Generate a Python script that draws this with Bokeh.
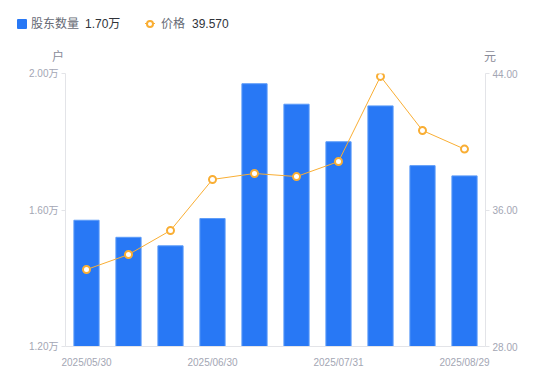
from bokeh.plotting import figure
from bokeh.layouts import column
from bokeh.models import (Range1d, LinearAxis, FixedTicker, PrintfTickFormatter,
                          ColumnDataSource, Div)
from bokeh.embed import file_html
from bokeh.resources import INLINE

# ---- data ----
dates = ["2025/05/30", "2025/06/10", "2025/06/20", "2025/06/30", "2025/07/10",
         "2025/07/18", "2025/07/31", "2025/08/08", "2025/08/20", "2025/08/29"]
holders = [1.57, 1.52, 1.495, 1.575, 1.97, 1.91, 1.80, 1.905, 1.73, 1.70]   # 万户
price = [32.51, 33.39, 34.80, 37.79, 38.14, 37.96, 38.84, 43.83, 40.66, 39.57]  # 元
shown_dates = ["2025/05/30", "2025/06/30", "2025/07/31", "2025/08/29"]
left_ticks = [1.2, 1.6, 2.0]
right_ticks = [28.0, 36.0, 44.0]
series_names = ["股东数量", "价格"]
legend_values = ["1.70万", "39.570"]
units = ["户", "元"]

BLUE = "#2878F5"
BAR_EDGE = "#5C9BF8"
ORANGE = "#F9AE34"
GREY_TXT = "#A3A6B4"
AXIS_LINE = "#E3E4E8"
FONT = "Liberation Sans, Noto Sans CJK SC"

W = 550
TOP_H = 65

# ---------------- main chart ----------------
idx = list(range(len(dates)))
src = ColumnDataSource(dict(x=idx, date=dates, holders=holders, price=price))
x_lo, x_hi = -0.5, len(dates) - 0.5

p = figure(width=W, height=381 - TOP_H, output_backend="svg", toolbar_location=None,
           x_range=Range1d(x_lo, x_hi),
           y_range=Range1d(left_ticks[0], left_ticks[-1]),
           min_border_left=65, min_border_right=65, min_border_top=8,
           min_border_bottom=35)
p.extra_y_ranges = {"price": Range1d(right_ticks[0], right_ticks[-1])}
p.outline_line_color = None
p.xgrid.visible = False
p.ygrid.visible = False

bars = p.vbar(x="x", top="holders", bottom=left_ticks[0], width=0.6, source=src,
              fill_color=BLUE, line_color=BAR_EDGE, line_width=1)
ln = p.line(x="x", y="price", source=src, y_range_name="price",
            line_color=ORANGE, line_width=1)
pts = p.scatter(x="x", y="price", source=src, y_range_name="price", size=7,
                fill_color="white", line_color=ORANGE, line_width=2)

# x axis
xa = p.xaxis[0]
xa.ticker = FixedTicker(ticks=[dates.index(d) for d in shown_dates])
xa.major_label_overrides = {dates.index(d): d for d in shown_dates}
xa.major_tick_line_color = None
xa.minor_tick_line_color = None
xa.axis_line_color = AXIS_LINE
xa.major_label_text_color = GREY_TXT
xa.major_label_text_font_size = "10px"
xa.major_label_text_font = FONT
xa.major_label_standoff = 4

# left axis
ya = p.yaxis[0]
ya.ticker = FixedTicker(ticks=left_ticks)
ya.formatter = PrintfTickFormatter(format="%.2f万")
ya.major_tick_in = 0
ya.major_tick_out = 4
ya.major_tick_line_color = AXIS_LINE
ya.minor_tick_line_color = None
ya.axis_line_color = AXIS_LINE
ya.major_label_text_color = GREY_TXT
ya.major_label_text_font_size = "10px"
ya.major_label_text_font = FONT
ya.major_label_standoff = 3

# right axis
ra = LinearAxis(y_range_name="price", ticker=FixedTicker(ticks=right_ticks),
                formatter=PrintfTickFormatter(format="%.2f"))
ra.major_tick_in = 0
ra.major_tick_out = 4
ra.major_tick_line_color = AXIS_LINE
ra.minor_tick_line_color = None
ra.axis_line_color = AXIS_LINE
ra.major_label_text_color = GREY_TXT
ra.major_label_text_font_size = "10px"
ra.major_label_text_font = FONT
ra.major_label_standoff = 3
p.add_layout(ra, "right")

# ---------------- header (legend + unit labels) ----------------
css_font = "font-family:'Liberation Sans','Noto Sans CJK SC',sans-serif;"
txt = "position:absolute;white-space:nowrap;font-size:12px;line-height:14px;"
header = f"""
<div style="position:relative;width:{W}px;height:{TOP_H}px;margin:0;padding:0;{css_font}">
  <span style="position:absolute;left:17px;top:19px;width:10px;height:10px;background:{BLUE};border-radius:1px;"></span>
  <span style="{txt}left:31px;top:17px;color:#666A75;">{series_names[0]}</span>
  <span style="{txt}left:85px;top:17px;color:#30333A;">{legend_values[0]}</span>
  <span style="position:absolute;left:145px;top:23px;width:10px;height:1px;background:{ORANGE};"></span>
  <span style="position:absolute;left:146px;top:20px;width:8px;height:8px;box-sizing:border-box;border:2px solid {ORANGE};border-radius:50%;background:#fff;"></span>
  <span style="{txt}left:161px;top:17px;color:#666A75;">{series_names[1]}</span>
  <span style="{txt}left:192px;top:17px;color:#30333A;">{legend_values[1]}</span>
  <span style="{txt}left:52px;top:50px;color:#8A8C99;">{units[0]}</span>
  <span style="{txt}left:484px;top:50px;color:#8A8C99;">{units[1]}</span>
</div>
"""
hdr = Div(text=header, width=W, height=TOP_H, margin=0)

layout = column(hdr, p, spacing=0)
open("out.html", "w").write(file_html(layout, INLINE))
